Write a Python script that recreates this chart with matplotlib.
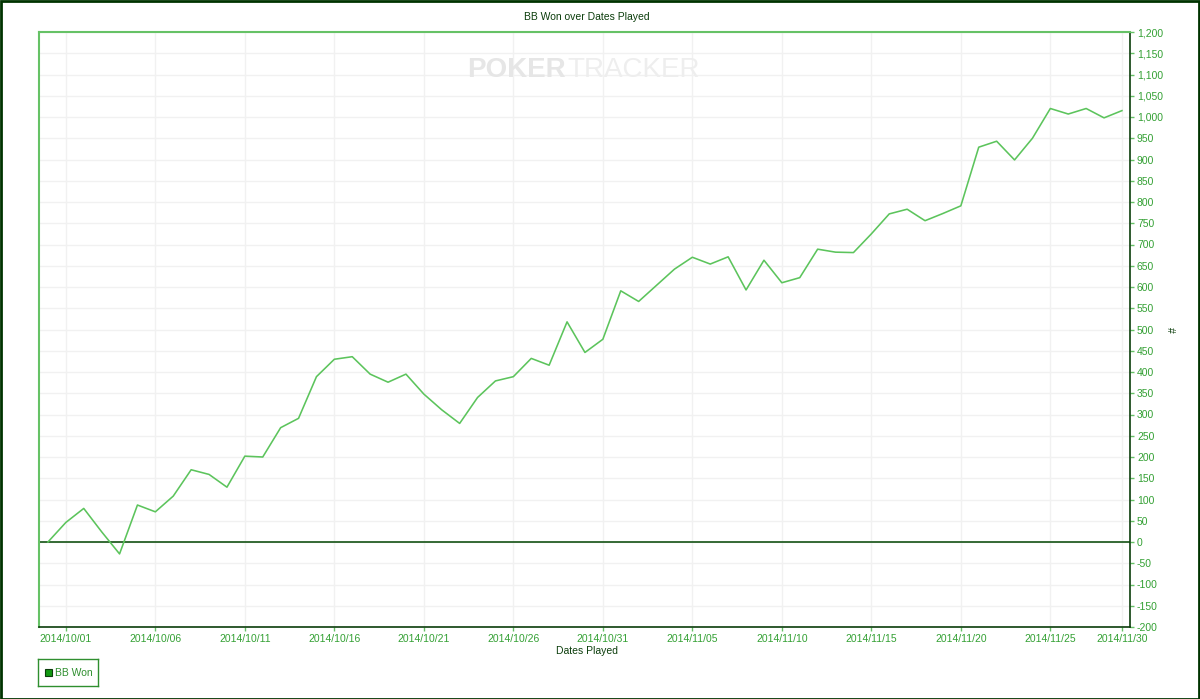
import matplotlib
matplotlib.use("Agg")
import matplotlib.pyplot as plt
from matplotlib.patches import Rectangle
import numpy as np
import datetime as dt

plt.rcParams['font.family'] = ['Liberation Sans', 'DejaVu Sans']

# --- data ---------------------------------------------------------------
title = "BB Won over Dates Played"
x_label = "Dates Played"
y_label = "#"
series_name = "BB Won"

start_value = 0  # starting point before the first date played
bb_won = [46, 79, 24, -28, 87, 71, 108, 170, 159, 129,
          202, 200, 269, 291, 389, 430, 436, 395, 376, 395,
          348, 311, 279, 340, 379, 389, 432, 416, 518, 446,
          477, 591, 566, 604, 642, 670, 654, 671, 593, 663,
          610, 622, 689, 682, 681, 725, 772, 783, 756, 773,
          791, 929, 943, 899, 950, 1020, 1007, 1020, 998, 1015]

d0 = dt.date(2014, 10, 1)
dates_played = [(d0 + dt.timedelta(days=i)).strftime("%Y/%m/%d") for i in range(59)] + ["2014/11/30"]

y_ticks = list(range(-200, 1201, 50))

# --- colours --------------------------------------------------------------
LINE = "#5cc45c"
DARK = "#0b3d0b"
LIGHT = "#66c266"
LABEL = "#33a033"
GRID = "#f1f1f1"

W, H = 1200, 699
fig = plt.figure(figsize=(W / 100, H / 100), dpi=100)
fig.patch.set_facecolor("white")
fig.patches.append(Rectangle((0.5 / W, 0.5 / H), 1 - 1.5 / W, 1 - 1.5 / H, transform=fig.transFigure,
                             fill=False, edgecolor="#003300", linewidth=2))

L, R, T, B = 39, 1130, 32, 627
ax = fig.add_axes([L / W, 1 - B / H, (R - L) / W, (B - T) / H])

x = np.arange(-1, len(bb_won))
y = [start_value] + bb_won
ax.plot(x, y, color=LINE, linewidth=1.15, zorder=3)
ax.axhline(0, color="#004400", linewidth=1.1, zorder=2)

ax.set_xlim(-1.5, len(bb_won) - 0.55)
ax.set_ylim(-200, 1200)

tick_idx = list(range(0, len(dates_played), 5)) + [len(dates_played) - 1]
ax.set_xticks(tick_idx)
ax.set_xticklabels([dates_played[i] for i in tick_idx], fontsize=7.5, color=LABEL)
ax.set_yticks(y_ticks)
ax.set_yticklabels([f"{v:,}" for v in y_ticks], fontsize=7.5, color=LABEL)
ax.yaxis.tick_right()
ax.yaxis.set_label_position("right")
ax.tick_params(axis="y", direction="out", length=3, width=1, color=LIGHT, pad=2)
ax.tick_params(axis="x", direction="out", length=3, width=1, color=LIGHT, pad=2)

ax.grid(True, color=GRID, linewidth=1, zorder=0)
ax.set_axisbelow(True)

for s in ["left", "top"]:
    ax.spines[s].set_color(LIGHT)
    ax.spines[s].set_linewidth(1.5)
for s in ["right", "bottom"]:
    ax.spines[s].set_color(DARK)
    ax.spines[s].set_linewidth(1.2)

fig.text(587 / W, 1 - 17 / H, title, ha="center", va="center", fontsize=7.5, color=DARK)
fig.text(587 / W, 1 - 651 / H, x_label, ha="center", va="center", fontsize=7.5, color=DARK)
fig.text(1170 / W, 1 - 330 / H, y_label, ha="center", va="center", fontsize=7.5, color=DARK, rotation=-90)

# watermark
fig.text(467 / W, 1 - 70 / H, "POKER", ha="left", va="center", fontsize=20, fontweight="bold", color="#e6e6e6")
fig.text(567 / W, 1 - 70 / H, "TRACKER", ha="left", va="center", fontsize=20, color="#eeeeee")

# legend
lg = fig.add_axes([38 / W, 1 - 686 / H, 60 / W, 27 / H])
lg.set_xlim(0, 60)
lg.set_ylim(0, 27)
lg.set_xticks([])
lg.set_yticks([])
for s in lg.spines.values():
    s.set_color("#2f8f2f")
    s.set_linewidth(1)
lg.add_patch(Rectangle((6.5, 10.5), 7, 7, facecolor="#119911", edgecolor="#0b3d0b", linewidth=0.8))
lg.text(17, 13.5, series_name, ha="left", va="center", fontsize=7.5, color="#2f8f2f")

fig.savefig("out.png", dpi=100)
